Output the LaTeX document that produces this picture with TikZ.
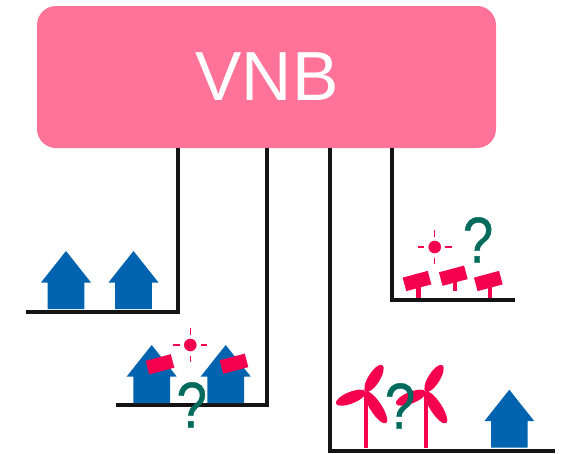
\documentclass[tikz,border=0pt]{standalone}
\usepackage{fontspec}
\setmainfont{Liberation Sans}
\newfontfamily\qfont[FakeStretch=0.84,FakeBold=0.6]{Liberation Sans}
\usetikzlibrary{positioning,calc}
\definecolor{vnbpink}{HTML}{FF7398}
\definecolor{hblue}{HTML}{0063AF}
\definecolor{pvred}{HTML}{F5004F}
\definecolor{qgreen}{HTML}{006A5C}
\tikzset{
house/.pic={\fill[hblue] (-18.3,0)--(-18.3,26.5)--(-25,26.5)--(0,58)--(25,26.5)--(18.3,26.5)--(18.3,0)--cycle;},
sun/.pic={\fill[pvred] (0,0) circle (6.3);\foreach \a in {0,90,180,270}{\draw[pvred,line width=1.3pt,rotate=\a] (10.5,0)--(17,0);}},
mast/.pic={\fill[pvred] (-2.2,0) rectangle (2.2,20);},
turbine/.pic={\fill[pvred] (-2,0) rectangle (2,56);\foreach \a/\l in {58/15.7,202/16,-57/18.8}{\fill[pvred,shift={(0,56)},rotate=\a] (\l,0) ellipse (\l pt and 5.8pt);}}
}
\begin{document}
\begin{tikzpicture}[x=1pt,y=1pt,feeder/.style={line width=3.6pt,draw=black!92,line cap=butt,line join=miter},panel/.style={fill=pvred,minimum width=26pt,minimum height=14pt,inner sep=0,rotate=15},quest/.style={text=qgreen,inner sep=0,font=\qfont\fontsize{65}{65}\selectfont}]
\useasboundingbox (0,0) rectangle (561,-453);
\node[fill=vnbpink,rounded corners=19pt,minimum width=459pt,minimum height=142pt,inner sep=0,text=white,font=\fontsize{69.5}{69.5}\selectfont] (vnb) at (266.5,-77) {\hspace*{1pt}VNB};
% feeders
\coordinate (cornerA) at (178,-312);\coordinate (endA) at (26,-312);
\coordinate (cornerB) at (267,-405);\coordinate (endB) at (116,-405);
\coordinate (cornerC) at (330,-451);\coordinate (endC) at (555,-451);
\coordinate (cornerD) at (392,-300);\coordinate (endD) at (515,-300);
\foreach \f in {A,B,C,D}{\draw[feeder] (vnb.south -| corner\f)--(corner\f)--(end\f);}
% loads
\pic at (66,-309) {house};\pic at (133.5,-309) {house};
\pic at (151.7,-403) {house};\pic at (225.7,-403) {house};
\pic at (509.3,-447.7) {house};
\node[panel] (pvB1) at (160,-364.3) {};
\node[panel] (pvB2) at (234,-363.7) {};
\pic at (190.3,-345) {sun};
\pic at (434.7,-247) {sun};
\pic at (418.3,-297.7) {mast};\pic at (454.7,-291) {mast};\pic at (489.7,-297.7) {mast};
\node[panel] (pvD1) at (417,-281) {};
\node[panel] (pvD2) at (453.3,-275.7) {};
\node[panel] (pvD3) at (488.3,-281) {};
\pic at (365.7,-447.7) {turbine};\pic at (425.7,-447.7) {turbine};
\node[quest] (qB) at (191.7,-405) {?};
\node[quest] (qC) at (400,-406) {?};
\node[quest] (qD) at (478,-240) {?};
\end{tikzpicture}
\end{document}
